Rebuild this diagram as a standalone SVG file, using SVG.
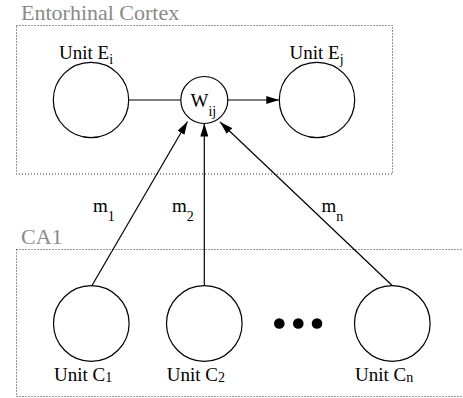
<svg xmlns="http://www.w3.org/2000/svg" width="463" height="398" viewBox="0 0 463 398" font-family="'Liberation Serif', 'DejaVu Serif', serif">
<style>
text{font-family:'Liberation Serif','DejaVu Serif',serif;fill:#000}
.lbl{font-size:19px}
.grp{font-size:22px;fill:#8a8a8a}
.sub{font-size:14px}
.box{fill:none;stroke:#333;stroke-width:1;stroke-dasharray:1 2}
.node{fill:#fff;stroke:#000;stroke-width:1.2}
.edge{fill:none;stroke:#000;stroke-width:1.2}
</style>
<defs>
<marker id="arr" viewBox="0 0 13 8" refX="13" refY="4" markerWidth="13" markerHeight="8" markerUnits="userSpaceOnUse" orient="auto">
<path d="M0,0 L13,4 L0,8 Z" fill="#000"/>
</marker>
</defs>
<g id="entorhinal-cortex">
<rect class="box" x="16.5" y="25.5" width="376" height="148.5"/>
<text class="grp" x="21" y="19.5">Entorhinal Cortex</text>
</g>
<g id="ca1">
<rect class="box" x="16.5" y="249.5" width="470" height="147"/>
<text class="grp" x="21" y="243.5">CA1</text>
</g>
<g id="connectors">
<line class="edge" x1="128.7" y1="100" x2="180.7" y2="100"/>
<line class="edge" x1="228" y1="100" x2="279.3" y2="100" marker-end="url(#arr)"/>
<line class="edge" x1="91.7" y1="286" x2="187.5" y2="121.5" marker-end="url(#arr)"/>
<line class="edge" x1="204.3" y1="285.5" x2="204.3" y2="123.5" marker-end="url(#arr)"/>
<line class="edge" x1="392.7" y1="286" x2="220" y2="122" marker-end="url(#arr)"/>
<text class="lbl" x="93" y="212">m<tspan class="sub" dy="9">1</tspan></text>
<text class="lbl" x="172" y="212">m<tspan class="sub" dy="9">2</tspan></text>
<text class="lbl" x="321.5" y="212">m<tspan class="sub" dy="9">n</tspan></text>
</g>
<g id="unit-ei">
<circle class="node" cx="91" cy="100" r="37.7"/>
<text class="lbl" x="59" y="58.5">Unit E<tspan class="sub" dy="5">i</tspan></text>
</g>
<g id="unit-ej">
<circle class="node" cx="317" cy="100" r="37.7"/>
<text class="lbl" x="289.5" y="58.5">Unit E<tspan class="sub" dy="5">j</tspan></text>
</g>
<g id="wij">
<circle class="node" cx="204.3" cy="100" r="23.5"/>
<text class="lbl" x="190.5" y="107">W<tspan class="sub" dy="8.5">ij</tspan></text>
</g>
<g id="unit-c1">
<circle class="node" cx="91.3" cy="323.5" r="37.8"/>
<text class="lbl" x="54" y="381">Unit C<tspan class="sub" dy="1">1</tspan></text>
</g>
<g id="unit-c2">
<circle class="node" cx="204.3" cy="323.5" r="37.8"/>
<text class="lbl" x="166.7" y="381">Unit C<tspan class="sub" dy="1">2</tspan></text>
</g>
<g id="ellipsis">
<circle cx="279.3" cy="323.5" r="5.3" fill="#000"/>
<circle cx="298.3" cy="323.5" r="5.3" fill="#000"/>
<circle cx="317" cy="323.5" r="5.3" fill="#000"/>
</g>
<g id="unit-cn">
<circle class="node" cx="392.3" cy="323.5" r="37.8"/>
<text class="lbl" x="355" y="381">Unit C<tspan class="sub" dy="1">n</tspan></text>
</g>
</svg>
